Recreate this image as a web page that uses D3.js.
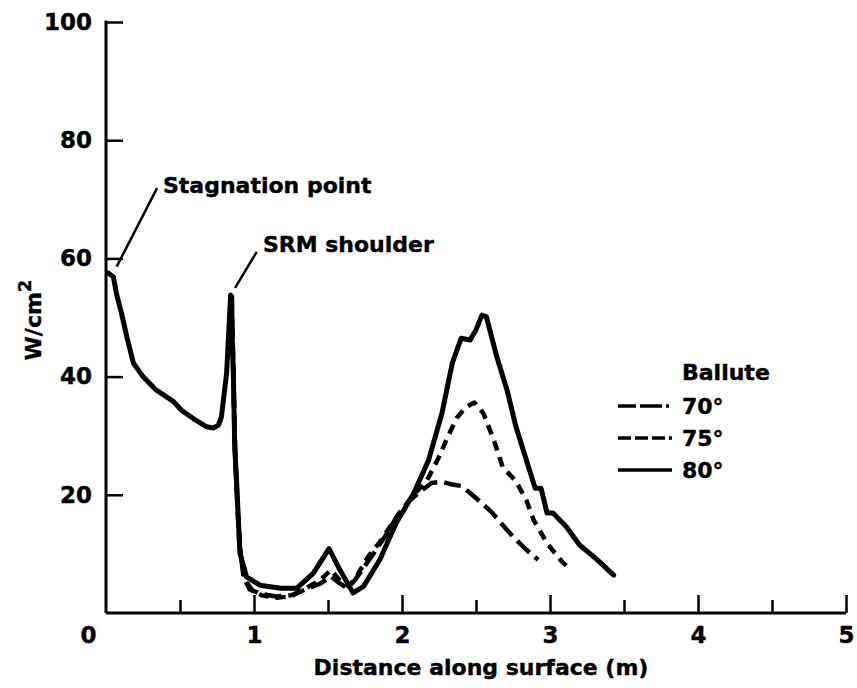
<!DOCTYPE html>
<html>
<head>
<meta charset="utf-8">
<script src="https://cdn.jsdelivr.net/npm/d3@7"></script>
<style>
  html, body { margin: 0; padding: 0; background: #fff; }
  svg { display: block; }
  text { font-family: "DejaVu Sans", sans-serif; font-weight: bold; fill: #000; stroke: #000; stroke-width: 0.4px; }
</style>
</head>
<body>
<svg id="chart" width="857" height="688"></svg>
<script>
// ---- data ----
const xTicksMajor = [1, 2, 3, 4, 5];
const xTicksMinor = [0.5, 1.5, 2.5, 3.5, 4.5];
const xTickLabels = [0, 1, 2, 3, 4, 5];
const yTicks = [20, 40, 60, 80, 100];

const series80 = [
  [0.015,57.5],[0.05,56.9],[0.07,54.1],[0.105,50.7],[0.14,46.8],[0.185,42.3],[0.25,40],
  [0.34,37.7],[0.455,35.8],[0.51,34.3],[0.59,32.9],[0.68,31.5],[0.725,31.3],[0.76,31.8],
  [0.78,33.2],[0.815,40.6],[0.842,53.8],[0.86,41],[0.87,28],[0.883,22],[0.905,10.1],
  [0.95,6.1],[1.04,4.7],[1.18,4.2],[1.29,4.2],[1.40,6.7],[1.507,10.9],[1.58,7.3],
  [1.67,3.4],[1.74,4.5],[1.85,9],[1.96,15.2],[2.08,20.3],[2.18,25.9],[2.27,33.8],
  [2.34,42.3],[2.40,46.5],[2.46,46.2],[2.50,47.9],[2.54,50.4],[2.57,50.1],[2.64,43.4],
  [2.71,37.7],[2.77,31.5],[2.84,25.9],[2.90,21.1],[2.94,21.1],[2.98,16.9],[3.02,16.9],
  [3.11,14.6],[3.20,11.5],[3.32,9],[3.43,6.4]
];
const series75 = [
  [0.85,53.8],[0.87,28],[0.89,18],[0.91,10],[0.94,5.5],[0.99,3.8],[1.05,3.0],[1.15,2.6],
  [1.25,2.8],[1.35,4.2],[1.45,5.6],[1.52,7.3],[1.58,5.5],[1.64,4.5],[1.7,6.5],[1.77,9.5],
  [1.85,12],[1.93,15],[2.0,17.5],[2.08,20.0],[2.17,22.5],[2.25,26.4],[2.3,29.3],[2.37,33.0],
  [2.43,34.8],[2.49,35.6],[2.55,33.8],[2.62,29.3],[2.68,24.7],[2.77,22.3],[2.84,19.1],
  [2.89,15.7],[2.98,11.8],[3.08,8.7],[3.12,7.8]
];
const series70 = [
  [0.85,53.8],[0.87,30],[0.88,22],[0.9,12],[0.93,6],[0.97,4],[1.05,3.2],[1.15,2.8],
  [1.25,3.0],[1.35,4.0],[1.45,5.0],[1.52,6.2],[1.58,5.0],[1.63,4.2],[1.68,5.5],[1.75,8.0],
  [1.82,10.5],[1.9,13.5],[1.97,16.5],[2.05,19.0],[2.12,20.5],[2.2,22.0],[2.27,22.2],
  [2.33,21.8],[2.4,21.5],[2.46,20.3],[2.53,18.8],[2.6,17.2],[2.67,15.2],[2.75,12.9],
  [2.84,10.7],[2.92,9.0]
];
const legendLabels = ["70°", "75°", "80°"];
const annotations = [
  { text: "Stagnation point", from: [0.345, 71.9], to: [0.072, 58.6], textAt: [0.385, 71.0] },
  { text: "SRM shoulder", from: [1.018, 61.1], to: [0.872, 55.0], textAt: [1.06, 61.0] }
];

// ---- layout ----
const svg = d3.select("#chart");
const x = d3.scaleLinear().domain([0, 5]).range([106, 846]);
const y = d3.scaleLinear().domain([0, 100]).range([613, 22]);

// x axis: major ticks
const gx = svg.append("g").attr("transform", `translate(0,${y(0)})`);
gx.call(d3.axisBottom(x).tickValues(xTicksMajor).tickSizeInner(-18).tickSizeOuter(0).tickFormat(""));
gx.select(".domain").attr("stroke-width", 3).attr("d", `M${x(0)},0H${x(5)}`);
gx.selectAll(".tick line").attr("stroke-width", 2.5);
// minor ticks
const gxm = svg.append("g").attr("transform", `translate(0,${y(0)})`);
gxm.call(d3.axisBottom(x).tickValues(xTicksMinor).tickSizeInner(-13).tickSizeOuter(0).tickFormat(""));
gxm.select(".domain").remove();
gxm.selectAll(".tick line").attr("stroke-width", 2.5);
// labels
const gxl = svg.append("g").attr("transform", `translate(0,${y(0)})`);
gxl.call(d3.axisBottom(x).tickValues(xTickLabels).tickSize(0).tickPadding(14).tickFormat(d3.format("d")));
gxl.select(".domain").remove();
gxl.selectAll(".tick text").attr("font-size", 23).attr("font-family", "DejaVu Sans").attr("font-weight", "bold").attr("fill", "#000");
gxl.selectAll(".tick").filter(d => d === 0).select("text").attr("x", -18);

// y axis
const gy = svg.append("g").attr("transform", `translate(${x(0)},0)`);
gy.call(d3.axisLeft(y).tickValues(yTicks).tickSizeInner(-17).tickSizeOuter(0).tickPadding(14).tickFormat(d3.format("d")));
gy.select(".domain").attr("stroke-width", 3).attr("d", `M0,${y(100) - 1.5}V${y(0)}`);
gy.selectAll(".tick line").attr("stroke-width", 2.5);
gy.selectAll(".tick text").attr("x", -14).attr("font-size", 23).attr("font-family", "DejaVu Sans").attr("font-weight", "bold").attr("fill", "#000");

// axis titles
svg.append("text")
  .attr("x", (x(0) + x(5)) / 2 + 5).attr("y", 675)
  .attr("text-anchor", "middle").attr("font-size", 22)
  .text("Distance along surface (m)");

const yl = svg.append("text")
  .attr("transform", "translate(41,320) rotate(-90)")
  .attr("text-anchor", "middle").attr("font-size", 22);
yl.append("tspan").text("W/cm");
yl.append("tspan").attr("font-size", 18).attr("dy", -10).text("2");

// curves
const line = d3.line().x(d => x(d[0])).y(d => y(d[1]));
const styles = [
  { data: series70, dash: "17,7", w: 4.5 },
  { data: series75, dash: "10,7", w: 4.5 },
  { data: series80, dash: null, w: 5 }
];
styles.forEach(s => {
  svg.append("path").datum(s.data).attr("d", line)
    .attr("fill", "none").attr("stroke", "#000").attr("stroke-width", s.w)
    .attr("stroke-linejoin", "round").attr("stroke-linecap", s.dash ? "butt" : "round")
    .attr("stroke-dasharray", s.dash);
});

// annotations
annotations.forEach(a => {
  svg.append("line")
    .attr("x1", x(a.from[0])).attr("y1", y(a.from[1]))
    .attr("x2", x(a.to[0])).attr("y2", y(a.to[1]))
    .attr("stroke", "#000").attr("stroke-width", 2.5);
  svg.append("text")
    .attr("x", x(a.textAt[0])).attr("y", y(a.textAt[1]))
    .attr("font-size", 22).text(a.text);
});

// legend
const legend = svg.append("g");
legend.append("text").attr("x", 682).attr("y", 380).attr("font-size", 22).text("Ballute");
const legendDash = ["18,4,22,4,3,10", "13,4,13,4,13,4,3,10", null];
legendLabels.forEach((lab, i) => {
  const ly = 406 + i * 32;
  legend.append("line").attr("x1", 618).attr("x2", 672).attr("y1", ly).attr("y2", ly)
    .attr("stroke", "#000").attr("stroke-width", 3.5).attr("stroke-dasharray", legendDash[i]);
  legend.append("text").attr("x", 682).attr("y", ly + 8).attr("font-size", 22).text(lab);
});
</script>
</body>
</html>
